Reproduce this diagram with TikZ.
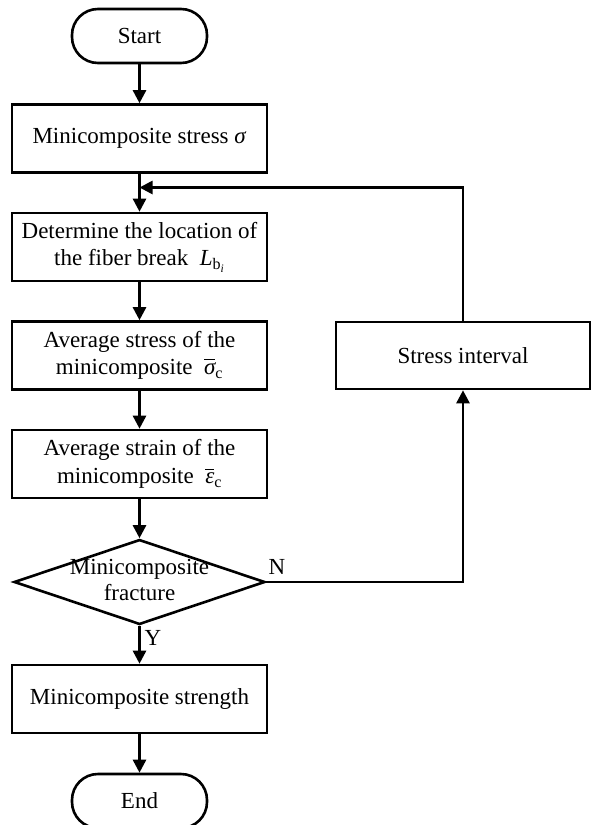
\documentclass[tikz,border=0pt]{standalone}
\usepackage{amsmath}
\usepackage{fontspec}
\setmainfont{Liberation Serif}
\usetikzlibrary{arrows.meta,positioning,calc,shapes.geometric}
\tikzset{every node/.style={font=\fontsize{23}{27.5}\selectfont},
 block/.style={draw,line width=2.6pt,minimum width=255pt,minimum height=68pt,inner sep=4pt,align=center},
 term/.style={draw,line width=2.6pt,rounded corners=26pt,minimum width=135pt,minimum height=54pt},
 decide/.style={draw,line width=2.6pt,diamond,aspect=3,minimum width=251pt,minimum height=85pt,inner sep=0pt},
 link/.style={-{Triangle[length=13pt,width=13pt]},draw=black,line width=2.6pt}}

\begin{document}
\begin{tikzpicture}[x=1pt,y=-1pt]

\useasboundingbox (0,0) rectangle (591,825);
\node[term] (start) at (139.5,36) {Start};
\node[block] (stress) at (139.5,138.5) {Minicomposite stress \textit{σ}};
\coordinate (merge) at (139.5,187.5);
\node[block] (locate) at (139.5,247)
 {Determine the location of\\the fiber break \ $\textit{L}_{\mathrm{b}_{\textit{i}}}$};
\node[block] (avgstress) at (139.5,355.5)
 {Average stress of the\\minicomposite \ $\overline{\textit{σ}}_{\mathrm{c}}$};
\node[block] (avgstrain) at (139.5,464)
 {Average strain of the\\minicomposite \ $\overline{\textit{ε}}_{\mathrm{c}}$};
\node[decide] (frac) at (139.5,582)
 {\makebox[0pt]{\begin{tabular}{@{}c@{}}Minicomposite\\[-1pt]fracture\end{tabular}}};
\node[block] (strength) at (139.5,699) {Minicomposite strength};
\node[term] (stop) at (139.5,801) {End};
\node[block,minimum width=254pt,minimum height=67pt] (interval) at (463,355.5) {Stress interval};
\node (nmark) at (277,567) {N};
\node (ymark) at (153,638) {Y};

\draw[link] (start)--(stress);
\draw[link] (stress)--(locate);
\draw[link] (locate)--(avgstress);
\draw[link] (avgstress)--(avgstrain);
\draw[link] (avgstrain)--(frac);
\draw[link] (frac)--(strength);
\draw[link] (strength)--(stop);
\draw[link] (frac.east)--(frac.east -| interval)--(interval.south);
\draw[link] (interval.north) |- (merge);

\end{tikzpicture}
\end{document}
